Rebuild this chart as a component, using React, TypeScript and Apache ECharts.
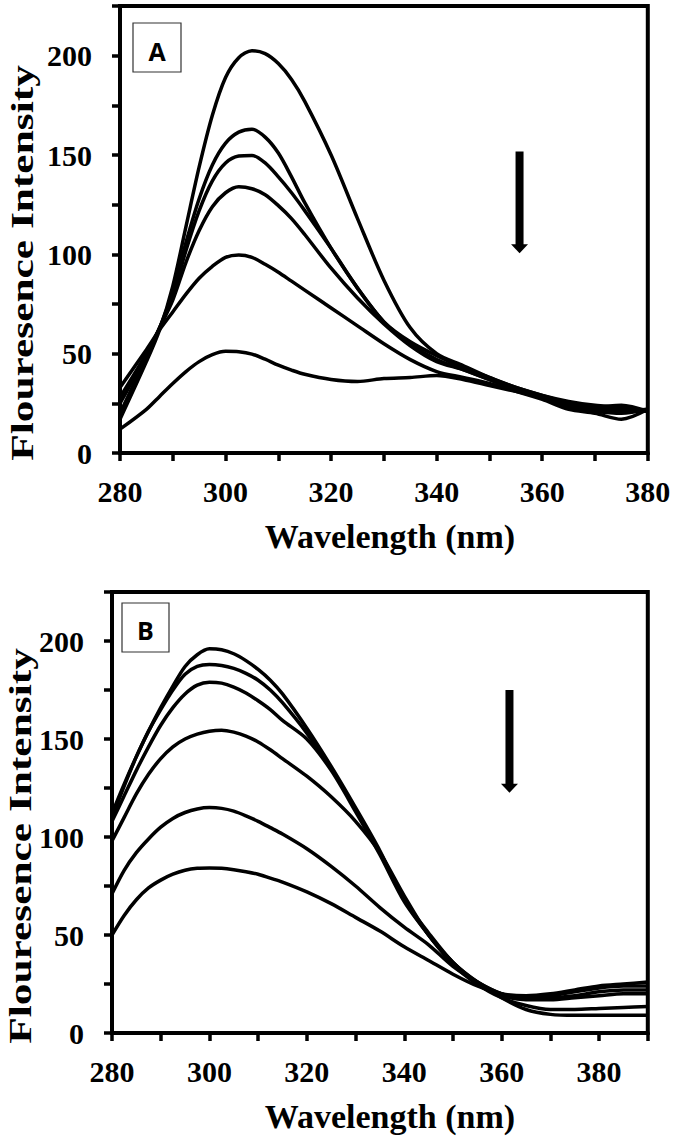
import React, { useEffect, useRef } from "react";
import * as echarts from "echarts";

// ---------- Panel A ----------
const wavelengthsA = [280, 285, 287.5, 290, 292.5, 295, 297.5, 300, 302.5, 305, 307.5, 310, 312.5, 315, 320, 325, 330, 335, 340, 345, 350, 355, 360, 365, 370, 375, 380];
const fluorA1 = [17, 46, 62, 84, 114, 144, 170, 189, 199, 202.5, 201, 196, 188, 177, 150, 118, 87, 63, 50, 44, 38, 33, 29, 26, 24, 23, 21];
const fluorA2 = [20, 48, 63, 81, 106, 128, 145, 156, 161.5, 163, 159, 151, 139, 126, 103, 83, 66, 56, 49, 43, 38, 33, 29, 25, 23, 22, 21];
const fluorA3 = [25, 49, 63, 79, 102, 122, 137, 146, 149.5, 149.8, 146, 139, 131, 122, 103, 83, 66, 55, 47, 42, 37, 32, 28, 24, 22, 21, 22];
const fluorA4 = [28, 50, 63, 77, 96, 112, 124, 131, 134, 133, 130, 124.5, 118, 110, 93, 78, 65, 54, 46, 42, 37, 32, 28, 23, 21, 20, 22];
const fluorA5 = [33, 52, 62, 71, 80, 88, 94, 98.5, 99.7, 98.5, 95, 91, 86.5, 82, 73, 64, 55, 47, 41, 38, 35, 31, 27, 22, 20, 17, 22];
const fluorA6 = [12, 22, 28.5, 35, 41, 46, 49.5, 51.2, 51, 49.8, 47.2, 44.2, 41.7, 39.6, 37, 36, 37.5, 38, 39, 37, 34, 31, 28, 25, 23, 24, 21];

// ---------- Panel B ----------
const wavelengthsB = [280, 282.5, 285, 287.5, 290, 292.5, 295, 297.5, 300, 302.5, 305, 307.5, 310, 312.5, 315, 320, 325, 330, 335, 340, 345, 350, 355, 360, 365, 370, 375, 380, 385, 390];
const fluorB1 = [110, 126, 141, 154, 166, 177, 187, 193, 196, 195.5, 193.5, 190, 185.5, 180, 173, 155.5, 136, 115, 93, 68, 51, 36, 26, 18, 12, 9.5, 9, 9, 9, 9];
const fluorB2 = [112, 127, 141, 154, 165, 175, 183, 187, 188, 187.5, 186, 183.5, 180, 175, 168.5, 153, 135, 114, 92, 68, 50, 36, 25, 18, 14, 12, 12, 12.5, 13, 13.5];
const fluorB3 = [108, 121, 134, 146, 157, 166, 173, 177.5, 179, 178.5, 176.5, 173.5, 169.5, 165, 159.5, 150, 134, 113, 91, 67, 50, 35, 25, 19, 17, 17, 18, 19, 20, 20];
const fluorB4 = [98, 110, 122, 132, 140, 146, 150, 152.5, 154, 154.5, 153.5, 151.5, 148.5, 144.5, 140, 131, 120.5, 108, 92, 70, 50, 36, 26, 20, 18, 18, 19, 21, 22, 22];
const fluorB5 = [71, 83, 92, 99, 105, 109.5, 112.5, 114.3, 115, 114.6, 113.2, 110.8, 108, 104.8, 101.5, 94, 85, 75, 64, 54, 45, 34, 26, 20, 18, 19, 21, 23, 24, 24];
const fluorB6 = [50, 60, 68, 74, 78, 81, 83, 84, 84.2, 84, 83.3, 82.3, 81, 79, 77, 72, 66, 59, 52, 44, 37, 30, 24, 20, 19, 20, 22, 24, 25, 26];

const seriesA = [fluorA1, fluorA2, fluorA3, fluorA4, fluorA5, fluorA6];
const seriesB = [fluorB1, fluorB2, fluorB3, fluorB4, fluorB5, fluorB6];

// axis ranges / ticks
const xMinA = 280, xMaxA = 380;
const xMinB = 280, xMaxB = 390;
const xTickStep = 10, xLabelStep = 20;
const yMin = 0, yMax = 225, yTickStep = 25, yLabelStep = 50;

// arrow annotations (data coordinates)
const arrowA = { x: 355.7, yTop: 151.8, yTip: 100.5 };
const arrowB = { x: 361.6, yTop: 175, yTip: 122.6 };

const panelLabels = ["A", "B"];
const xTitle = "Wavelength (nm)";
const yTitle = "Flouresence Intensity";

export default function App() {
  const ref = useRef<HTMLDivElement>(null);

  useEffect(() => {
    const chart = echarts.init(ref.current!, null, { renderer: "svg" });
    const serif = "Liberation Serif";

    const mkX = (gridIndex: number, min: number, max: number, pad: number) => ({
      type: "value",
      gridIndex,
      min,
      max,
      interval: xTickStep,
      axisLine: { show: true, lineStyle: { color: "#000", width: 4 } },
      axisTick: { show: true, inside: false, length: 8, lineStyle: { color: "#000", width: 3.5 } },
      axisLabel: {
        margin: 23,
        fontFamily: serif,
        fontWeight: "bold",
        fontSize: 30,
        color: "#000",
        formatter: (v: number) => (v % xLabelStep === 0 ? String(v) : ""),
      },
      splitLine: { show: false },
      name: xTitle,
      nameLocation: "middle",
      nameGap: 66,
      nameTextStyle: {
        fontFamily: serif,
        fontWeight: "bold",
        fontSize: 34,
        color: "#000",
        padding: [0, 0, 0, pad],
      },
    });

    const mkY = (gridIndex: number) => ({
      type: "value",
      gridIndex,
      min: yMin,
      max: yMax,
      interval: yTickStep,
      axisLine: { show: true, lineStyle: { color: "#000", width: 4 } },
      axisTick: { show: true, inside: false, length: 8, lineStyle: { color: "#000", width: 3.5 } },
      axisLabel: {
        margin: 28,
        fontFamily: serif,
        fontWeight: "bold",
        fontSize: 30,
        color: "#000",
        formatter: (v: number) => (v % yLabelStep === 0 ? String(v) : ""),
      },
      splitLine: { show: false },
    });

    const mkSeries = (vals: number[], xs: number[], idx: number) => ({
      type: "line",
      xAxisIndex: idx,
      yAxisIndex: idx,
      data: xs.map((w, i) => [w, vals[i]]),
      showSymbol: false,
      smooth: 0.3,
      silent: true,
      lineStyle: { color: "#000", width: 3.5 },
    });

    chart.setOption({
      animation: false,
      backgroundColor: "#fff",
      grid: [
        { left: 120, top: 6, right: 27.2, height: 447, show: true, borderColor: "#000", borderWidth: 4 },
        { left: 112, top: 592, right: 27.2, height: 441, show: true, borderColor: "#000", borderWidth: 4 },
      ],
      xAxis: [mkX(0, xMinA, xMaxA, 12), mkX(1, xMinB, xMaxB, 20)],
      yAxis: [mkY(0), mkY(1)],
      series: [
        ...seriesA.map((s) => mkSeries(s, wavelengthsA, 0)),
        ...seriesB.map((s) => mkSeries(s, wavelengthsB, 1)),
      ],
    });

    const arrowEls = (gridIndex: number, a: { x: number; yTop: number; yTip: number }, id: string) => {
      const p1 = chart.convertToPixel({ gridIndex }, [a.x, a.yTop]) as number[];
      const p2 = chart.convertToPixel({ gridIndex }, [a.x, a.yTip]) as number[];
      return [
        {
          id: id + "-shaft",
          type: "rect",
          shape: { x: p1[0] - 4, y: p1[1], width: 8, height: p2[1] - p1[1] - 8 },
          style: { fill: "#000" },
          z: 10,
        },
        {
          id: id + "-head",
          type: "polygon",
          shape: { points: [[p2[0] - 8.5, p2[1] - 9], [p2[0] + 8.5, p2[1] - 9], [p2[0], p2[1]]] },
          style: { fill: "#000" },
          z: 10,
        },
      ];
    };

    const yTitleEl = (id: string, x: number, y: number) => ({
      id,
      type: "text",
      x,
      y,
      rotation: Math.PI / 2,
      scaleX: 1.4,
      style: {
        text: yTitle,
        fontFamily: serif,
        fontWeight: "bold",
        fontSize: 31,
        fill: "#000",
        align: "center",
        verticalAlign: "middle",
      },
    });

    const labelBox = (id: string, label: string, x: number, y: number, w: number, h: number, tx: number, ty: number) => [
      {
        id: id + "-box",
        type: "rect",
        shape: { x, y, width: w, height: h },
        style: { fill: "#fff", stroke: "#333", lineWidth: 1.2 },
        z: 10,
      },
      {
        id: id + "-txt",
        type: "text",
        x: tx,
        y: ty,
        style: {
          text: label,
          fontFamily: "Open Sans",
          fontWeight: "bold",
          fontSize: 25,
          fill: "#000",
          align: "center",
          verticalAlign: "middle",
        },
        z: 11,
      },
    ];

    chart.setOption({
      graphic: [
        yTitleEl("ytA", 22, 263),
        yTitleEl("ytB", 20, 846),
        ...labelBox("lbA", panelLabels[0], 133, 23, 48, 49, 157, 51),
        ...labelBox("lbB", panelLabels[1], 122, 603, 47, 49, 145.5, 630),
        ...arrowEls(0, arrowA, "arA"),
        ...arrowEls(1, arrowB, "arB"),
      ],
    });

    return () => chart.dispose();
  }, []);

  return (
    <div
      ref={ref}
      style={{ position: "absolute", left: 0, top: 0, width: 675, height: 1144, background: "#fff" }}
    />
  );
}
